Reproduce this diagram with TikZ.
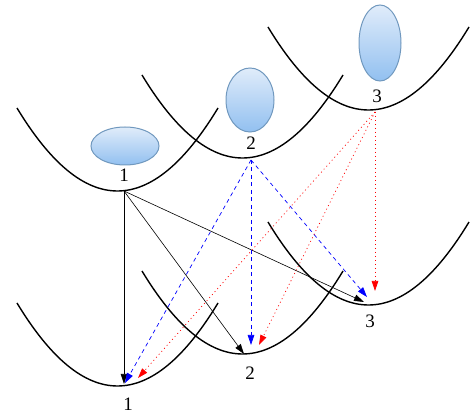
\documentclass[tikz,border=0pt]{standalone}
\usepackage{fontspec}
\setmainfont{Liberation Serif}
\usetikzlibrary{arrows.meta,shapes.geometric}
\definecolor{blobtop}{RGB}{224,236,250}
\definecolor{blobbot}{RGB}{146,192,240}
\definecolor{blobline}{RGB}{112,152,190}
\definecolor{bluearrow}{RGB}{0,0,255}
\definecolor{redarrow}{RGB}{255,0,0}
\tikzset{
  well/.style={draw=black,line width=1.4pt},
  blob/.style={ellipse,draw=blobline,line width=1pt,top color=blobtop,bottom color=blobbot,inner sep=0pt},
  num/.style={inner sep=0pt,font=\fontsize{19}{19}\selectfont},
  tip/.style={-{Triangle[length=10pt,width=6.5pt]}},
  solidarrow/.style={tip,draw=black,line width=0.6pt},
  dasharrow/.style={tip,draw=bluearrow,line width=0.7pt,dash pattern=on 4pt off 3.5pt},
  dotarrow/.style={tip,draw=redarrow,line width=0.7pt,dash pattern=on 1pt off 3pt}
}
\newcommand{\wellat}[2]{\draw[well] (#1-101,#2-83) .. controls (#1-34,#2+27.67) and (#1+33,#2+27.67) .. (#1+100,#2-83);}
\begin{document}
\begin{tikzpicture}[x=1pt,y=-1pt]
\useasboundingbox (0,0) rectangle (472,414);
% wells
\wellat{118}{191}
\wellat{243}{158}
\wellat{369}{110}
\wellat{118}{386}
\wellat{243}{354}
\wellat{369}{305}
% blobs
\node[blob,minimum width=68pt,minimum height=38pt] (e1) at (125,146) {};
\node[blob,minimum width=48pt,minimum height=64pt] (e2) at (250,100) {};
\node[blob,minimum width=42pt,minimum height=76pt] (e3) at (380,43) {};
% labels
\node[num] (n1) at (124,175) {1};
\node[num] (n2) at (251,143) {2};
\node[num] (n3) at (377,96) {3};
\node[num] (m1) at (128,404) {1};
\node[num] (m2) at (250,373) {2};
\node[num] (m3) at (370,321) {3};
% connector ends
\coordinate (s1) at (124,191);
\coordinate (s2) at (251,160);
\coordinate (s3) at (375,112);
\coordinate (k1) at (124,384);
\coordinate (k2) at (244,354);
\coordinate (k3) at (364,302);
\coordinate (b1) at (125,383);
\coordinate (b2) at (251,345);
\coordinate (b3) at (367,297);
\coordinate (r1) at (138,378);
\coordinate (r2) at (259,345);
\coordinate (r3) at (375,291);
% connectors
\draw[solidarrow] (s1) -- (k1);
\draw[solidarrow] (s1) -- (k2);
\draw[solidarrow] (s1) -- (k3);
\draw[dasharrow] (s2) -- (b1);
\draw[dasharrow] (s2) -- (b2);
\draw[dasharrow] (s2) -- (b3);
\draw[dotarrow] (s3) -- (r1);
\draw[dotarrow] (s3) -- (r2);
\draw[dotarrow] (s3) -- (r3);
\end{tikzpicture}
\end{document}
